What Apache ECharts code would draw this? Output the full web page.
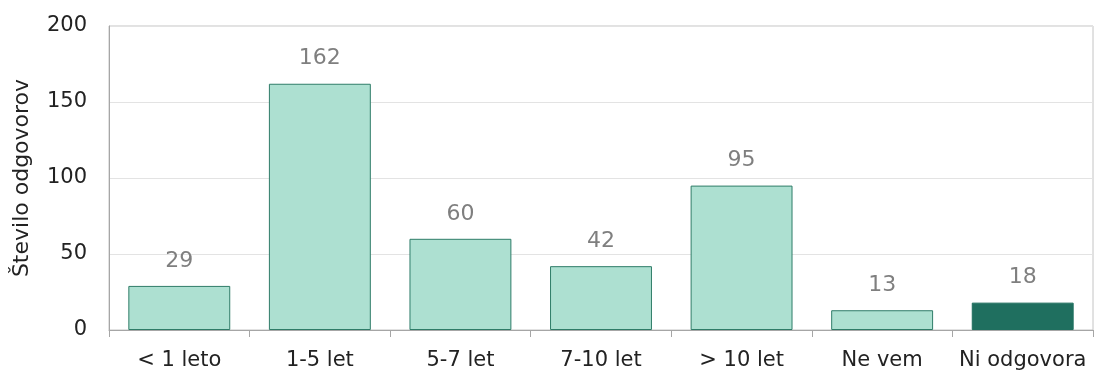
<!DOCTYPE html>
<html>
<head>
<meta charset="utf-8">
<script src="https://cdn.jsdelivr.net/npm/echarts@6/dist/echarts.min.js"></script>
<style>
  html, body { margin: 0; padding: 0; background: #ffffff; }
  #chart { width: 1097px; height: 371px; }
</style>
</head>
<body>
<div id="chart"></div>
<script>
// Survey answers: years of experience
const categories = ['< 1 leto', '1-5 let', '5-7 let', '7-10 let', '> 10 let', 'Ne vem', 'Ni odgovora'];
const counts = [29, 162, 60, 42, 95, 13, 18];
const yTicks = [0, 50, 100, 150, 200];
const axisTitle = 'Število odgovorov';

const lightFill = '#ade0d1';
const lightEdge = '#2f7c68';
const darkFill = '#1f6f5f';
const fontFamily = '"DejaVu Sans", "Noto Sans", sans-serif';

const chart = echarts.init(document.getElementById('chart'), null, { renderer: 'canvas' });

const barData = counts.map((v, i) => {
  const last = i === counts.length - 1;
  return {
    value: v,
    itemStyle: last
      ? { color: darkFill, borderColor: darkFill, borderWidth: 1 }
      : { color: lightFill, borderColor: lightEdge, borderWidth: 1 }
  };
});

chart.setOption({
  animation: false,
  backgroundColor: '#ffffff',
  grid: {
    left: 109, right: 4, top: 26, bottom: 41,
    show: true, borderColor: '#c4c4c4', borderWidth: 1, backgroundColor: 'transparent'
  },
  xAxis: {
    type: 'category',
    data: categories,
    axisLine: { show: true, lineStyle: { color: '#a6a6a6', width: 1 } },
    axisTick: { show: true, interval: 0, alignWithLabel: false, length: 7, lineStyle: { color: '#a6a6a6' } },
    axisLabel: {
      interval: 0, hideOverlap: false, color: '#222222', fontSize: 21, fontFamily, margin: 20,
      overflow: 'none'
    },
    splitLine: { show: false }
  },
  yAxis: {
    type: 'value',
    min: yTicks[0],
    max: yTicks[yTicks.length - 1],
    interval: 50,
    name: axisTitle,
    nameLocation: 'middle',
    nameGap: 76,
    nameRotate: 90,
    nameTextStyle: { color: '#222222', fontSize: 22, fontFamily },
    axisLine: { show: true, lineStyle: { color: '#a6a6a6', width: 1 } },
    axisTick: { show: false },
    axisLabel: { color: '#222222', fontSize: 21, fontFamily, margin: 22 },
    splitLine: { show: true, lineStyle: { color: '#e3e3e3', width: 1 } }
  },
  series: [{
    type: 'bar',
    data: barData,
    barWidth: '72.5%',
    label: {
      show: true,
      position: 'top',
      distance: 14,
      color: '#7f7f7f',
      fontSize: 22,
      fontFamily
    }
  }]
});
</script>
</body>
</html>
